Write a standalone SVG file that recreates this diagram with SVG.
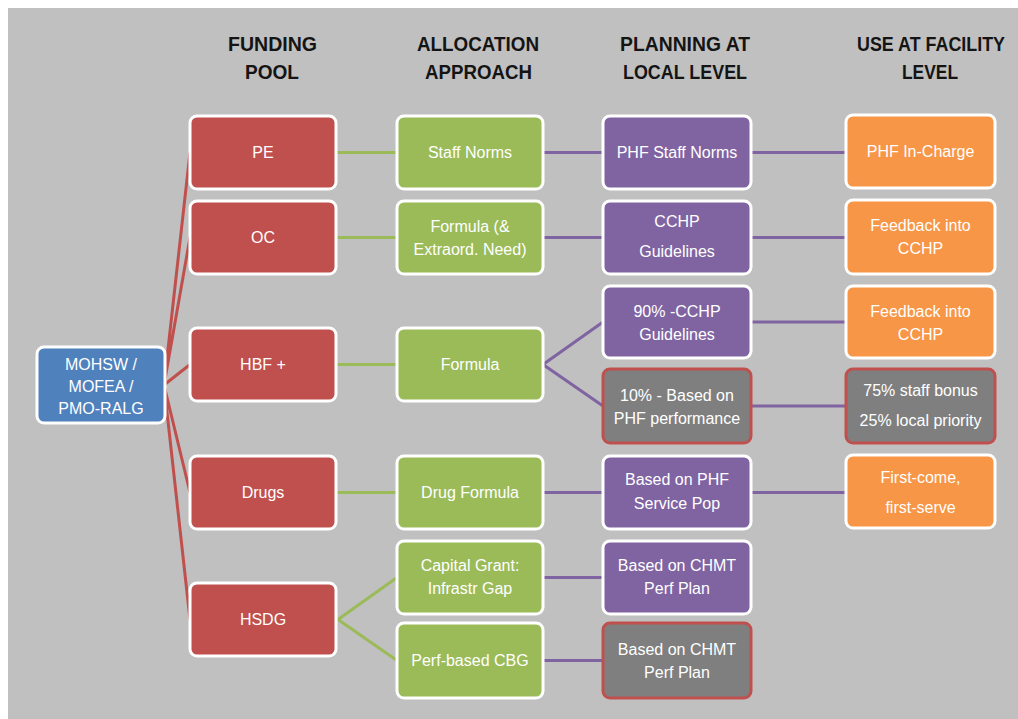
<svg xmlns="http://www.w3.org/2000/svg" width="1018" height="719" viewBox="0 0 1018 719">
<style>
.bg{fill:#c0c0c0}
.box{stroke:#ffffff;stroke-width:3}
.red{fill:#c0504d}
.blue{fill:#4f81bd}
.green{fill:#9bbb59}
.purple{fill:#8064a2}
.orange{fill:#f79646}
.gray{fill:#7f7f7f;stroke:#c0504d;stroke-width:3}
.t{font-family:"Liberation Sans",Arial,sans-serif;font-size:16px;fill:#ffffff;text-anchor:middle}
.h{font-family:"Liberation Sans",Arial,sans-serif;font-size:21px;font-weight:bold;fill:#141414;text-anchor:middle}
.lr{stroke:#c0504d;stroke-width:3;fill:none}
.lg{stroke:#9bbb59;stroke-width:3;fill:none}
.lp{stroke:#8064a2;stroke-width:3;fill:none}
</style>
<rect class="bg" x="8" y="8" width="1010" height="711"/>
<g id="headers">
<g transform="translate(272.5,51) scale(0.85,1)"><text class="h" x="0" y="0" textLength="104.7" lengthAdjust="spacingAndGlyphs">FUNDING</text></g>
<g transform="translate(272,79) scale(0.85,1)"><text class="h" x="0" y="0" textLength="63.5" lengthAdjust="spacingAndGlyphs">POOL</text></g>
<g transform="translate(478,51) scale(0.85,1)"><text class="h" x="0" y="0" textLength="143.5" lengthAdjust="spacingAndGlyphs">ALLOCATION</text></g>
<g transform="translate(478.5,79) scale(0.85,1)"><text class="h" x="0" y="0" textLength="125.9" lengthAdjust="spacingAndGlyphs">APPROACH</text></g>
<g transform="translate(685,51) scale(0.85,1)"><text class="h" x="0" y="0" textLength="152.9" lengthAdjust="spacingAndGlyphs">PLANNING AT</text></g>
<g transform="translate(685,79) scale(0.85,1)"><text class="h" x="0" y="0" textLength="145.9" lengthAdjust="spacingAndGlyphs">LOCAL LEVEL</text></g>
<g transform="translate(931,51) scale(0.85,1)"><text class="h" x="0" y="0" textLength="174.1" lengthAdjust="spacingAndGlyphs">USE AT FACILITY</text></g>
<g transform="translate(930,79) scale(0.85,1)"><text class="h" x="0" y="0" textLength="65.9" lengthAdjust="spacingAndGlyphs">LEVEL</text></g>
</g>
<g id="connectors">
<path class="lr" d="M164 385 L190 152.5 M164 385 L190 237.5 M164 385 L190 364.5 M164 385 L190 492.5 M164 385 L190 619.5"/>
<path class="lg" d="M336 152.5 H397 M336 237.5 H397 M336 364.5 H397 M336 492.5 H397 M338 619.5 L397 577.5 M338 619.5 L397 660.5"/>
<path class="lp" d="M543 152.5 H603 M543 237.5 H603 M543 364.5 L603 322 M543 364.5 L603 406 M543 492.5 H603 M543 577.5 H603 M543 660.5 H603"/>
<path class="lp" d="M751 152.5 H846 M751 237.5 H846 M751 322 H846 M751 406 H846 M751 492.5 H846"/>
</g>
<g id="n-mohsw"><rect class="box blue" x="37" y="347" width="128" height="76" rx="7"/>
<text class="t" x="101" y="370">MOHSW /</text><text class="t" x="101" y="392">MOFEA /</text><text class="t" x="101" y="414">PMO-RALG</text></g>
<g id="n-pe"><rect class="box red" x="190" y="116" width="146" height="73" rx="7"/><text class="t" x="263" y="158">PE</text></g>
<g id="n-oc"><rect class="box red" x="190" y="201" width="146" height="73" rx="7"/><text class="t" x="263" y="243">OC</text></g>
<g id="n-hbf"><rect class="box red" x="190" y="328" width="146" height="73" rx="7"/><text class="t" x="263" y="370">HBF +</text></g>
<g id="n-drugs"><rect class="box red" x="190" y="456" width="146" height="73" rx="7"/><text class="t" x="263" y="498">Drugs</text></g>
<g id="n-hsdg"><rect class="box red" x="190" y="583" width="146" height="73" rx="7"/><text class="t" x="263" y="625">HSDG</text></g>
<g id="n-staffnorms"><rect class="box green" x="397" y="116" width="146" height="73" rx="7"/><text class="t" x="470" y="158">Staff Norms</text></g>
<g id="n-formula-extra"><rect class="box green" x="397" y="201" width="146" height="73" rx="7"/><text class="t" x="470" y="232">Formula (&amp;</text><text class="t" x="470" y="255">Extraord. Need)</text></g>
<g id="n-formula"><rect class="box green" x="397" y="328" width="146" height="73" rx="7"/><text class="t" x="470" y="370">Formula</text></g>
<g id="n-drugformula"><rect class="box green" x="397" y="456" width="146" height="73" rx="7"/><text class="t" x="470" y="498">Drug Formula</text></g>
<g id="n-capital"><rect class="box green" x="397" y="541" width="146" height="73" rx="7"/><text class="t" x="470" y="571">Capital Grant:</text><text class="t" x="470" y="594">Infrastr Gap</text></g>
<g id="n-perfcbg"><rect class="box green" x="397" y="623" width="146" height="75" rx="7"/><text class="t" x="470" y="666">Perf-based CBG</text></g>
<g id="n-phfstaff"><rect class="box purple" x="603" y="116" width="148" height="73" rx="7"/><text class="t" x="677" y="158">PHF Staff Norms</text></g>
<g id="n-cchp"><rect class="box purple" x="603" y="201" width="148" height="73" rx="7"/><text class="t" x="677" y="227">CCHP</text><text class="t" x="677" y="257">Guidelines</text></g>
<g id="n-90"><rect class="box purple" x="603" y="286" width="148" height="72" rx="7"/><text class="t" x="677" y="317">90% -CCHP</text><text class="t" x="677" y="340">Guidelines</text></g>
<g id="n-10"><rect class="gray" x="603" y="369" width="148" height="74" rx="7"/><text class="t" x="677" y="401">10% - Based on</text><text class="t" x="677" y="424">PHF performance</text></g>
<g id="n-servicepop"><rect class="box purple" x="603" y="456" width="148" height="73" rx="7"/><text class="t" x="677" y="485">Based on PHF</text><text class="t" x="677" y="509">Service Pop</text></g>
<g id="n-chmt1"><rect class="box purple" x="603" y="541" width="148" height="73" rx="7"/><text class="t" x="677" y="571">Based on CHMT</text><text class="t" x="677" y="594">Perf Plan</text></g>
<g id="n-chmt2"><rect class="gray" x="603" y="623" width="148" height="75" rx="7"/><text class="t" x="677" y="655">Based on CHMT</text><text class="t" x="677" y="678">Perf Plan</text></g>
<g id="n-incharge"><rect class="box orange" x="846" y="115" width="149" height="73" rx="7"/><text class="t" x="920.5" y="157">PHF In-Charge</text></g>
<g id="n-feedback1"><rect class="box orange" x="846" y="200" width="149" height="74" rx="7"/><text class="t" x="920.5" y="231">Feedback into</text><text class="t" x="920.5" y="254">CCHP</text></g>
<g id="n-feedback2"><rect class="box orange" x="846" y="286" width="149" height="72" rx="7"/><text class="t" x="920.5" y="317">Feedback into</text><text class="t" x="920.5" y="340">CCHP</text></g>
<g id="n-bonus"><rect class="gray" x="846" y="369" width="149" height="74" rx="7"/><text class="t" x="920.5" y="396">75% staff bonus</text><text class="t" x="920.5" y="426">25% local priority</text></g>
<g id="n-firstcome"><rect class="box orange" x="846" y="455" width="149" height="73" rx="7"/><text class="t" x="920.5" y="483">First-come,</text><text class="t" x="920.5" y="513">first-serve</text></g>
</svg>
